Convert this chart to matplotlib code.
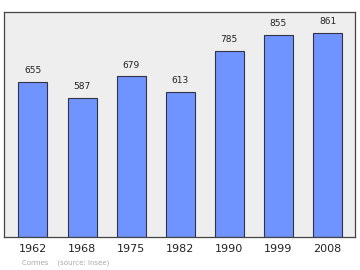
import matplotlib
matplotlib.use("Agg")
import matplotlib.pyplot as plt

years = ["1962", "1968", "1975", "1982", "1990", "1999", "2008"]
population = [655, 587, 679, 613, 785, 855, 861]

fig = plt.figure(figsize=(3.6, 2.7), dpi=100)
ax = fig.add_axes([4/360, 33/270, 351/360, 225/270])
ax.set_facecolor("#eeeeee")
x = list(range(len(years)))
ax.bar(x, population, width=0.59, color="#7094ff", edgecolor="#333344", linewidth=0.8)
for xi, v in zip(x, population):
    ax.text(xi, v + 28, str(v), ha="center", va="bottom", fontsize=6.5, color="#222222")
ax.set_xlim(-0.59, 6.56)
ax.set_ylim(0, 950)
ax.set_yticks([])
ax.set_xticks(x)
ax.set_xticklabels(years, fontsize=8, color="#222222")
ax.tick_params(axis="x", length=0, pad=5)
for s in ax.spines.values():
    s.set_color("#444444")
    s.set_linewidth(0.9)
fig.text(22/360, 1 - 263/270, "Cormes    (source: Insee)", fontsize=5.0, color="#aaaaaa", va="center")
fig.savefig("out.png", dpi=100)
